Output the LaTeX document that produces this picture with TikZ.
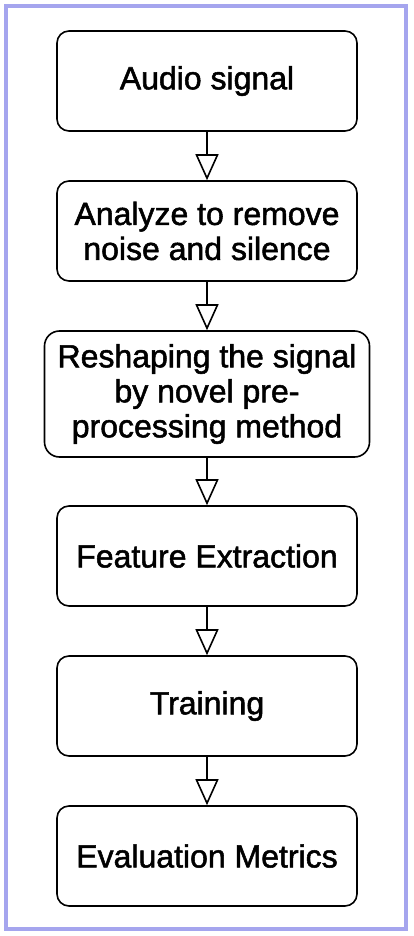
\documentclass[tikz,border=0pt]{standalone}
\usepackage{fontspec}
\setmainfont{Liberation Sans}[FakeBold=1.6]
\usetikzlibrary{arrows.meta}
\definecolor{framelav}{RGB}{165,165,238}

\begin{document}
\begin{tikzpicture}[x=1pt, y=-1pt,
	stepbox/.style={draw, line width=1.6pt, rounded corners=12pt, align=center,
		minimum width=300pt, minimum height=100pt, inner sep=0pt,
		font=\fontsize{32}{35}\selectfont},
	flow/.style={line width=1.6pt, -{Triangle[open, width=23pt, length=26pt, fill=white]}}]
			%%%%% START %%%%%
			
			\useasboundingbox (0, 0) rectangle (413, 936);
			\draw[line width=4pt, color=framelav] (6, 6) rectangle (406, 929);
			
			\node[stepbox] (audio) at (207, 81) {Audio signal};
			\node[stepbox] (analyze) at (207, 231) {Analyze to remove\\noise and silence};
			\node[stepbox, minimum width=325pt, minimum height=126pt, rounded corners=15pt] (reshape) at (207, 394) {Reshaping the signal\\by novel pre-\\processing method};
			\node[stepbox] (feature) at (207, 556) {Feature Extraction};
			\node[stepbox] (training) at (207, 706) {Training};
			\node[stepbox] (metrics) at (207, 856) {Evaluation Metrics};
			
			\draw[flow] (audio) -- (analyze);
			\draw[flow] (analyze) -- (reshape);
			\draw[flow] (reshape) -- (feature);
			\draw[flow] (feature) -- (training);
			\draw[flow] (training) -- (metrics);
			
			%%%%% END %%%%%
\end{tikzpicture}
\end{document}
